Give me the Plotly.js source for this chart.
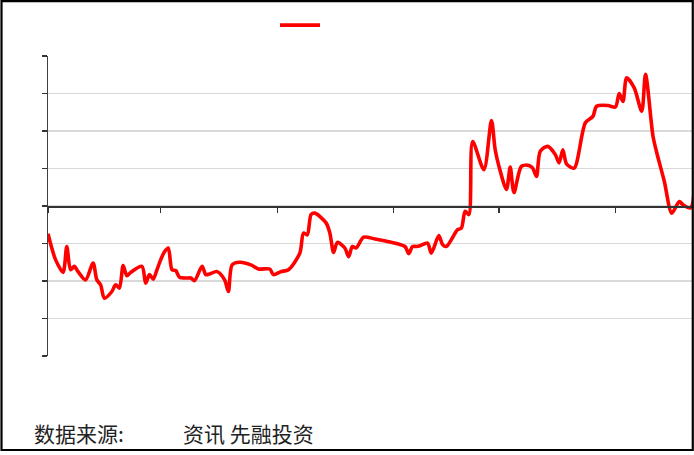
<!DOCTYPE html>
<html>
<head>
<meta charset="utf-8">
<script src="https://cdn.plot.ly/plotly-3.0.1.min.js"></script>
<style>
  html, body { margin: 0; padding: 0; background: #fff; }
  #chart { width: 694px; height: 455px; }
</style>
</head>
<body>
<div id="chart"></div>
<script>
// Dates of observations
var dates = [
  '2022-11-01','2022-11-02','2022-11-03','2022-11-05','2022-11-06','2022-11-07','2022-11-08','2022-11-09',
  '2022-11-11','2022-11-13','2022-11-14','2022-11-15','2022-11-16','2022-11-18','2022-11-19','2022-11-20',
  '2022-11-21','2022-11-22','2022-11-23','2022-11-26','2022-11-27','2022-11-28','2022-11-29','2022-11-30',
  '2022-12-01','2022-12-02','2022-12-03','2022-12-04','2022-12-05','2022-12-06','2022-12-08','2022-12-09',
  '2022-12-10','2022-12-12','2022-12-13','2022-12-14','2022-12-16','2022-12-18','2022-12-19','2022-12-20',
  '2022-12-22','2022-12-25','2022-12-27','2022-12-30','2022-12-31',
  '2023-01-02','2023-01-04','2023-01-07','2023-01-08','2023-01-09','2023-01-10','2023-01-11','2023-01-14',
  '2023-01-15','2023-01-16','2023-01-17','2023-01-19','2023-01-20','2023-01-21','2023-01-22','2023-01-24',
  '2023-01-27','2023-01-31',
  '2023-02-04','2023-02-05','2023-02-06','2023-02-07','2023-02-08','2023-02-10','2023-02-11','2023-02-13',
  '2023-02-14','2023-02-15','2023-02-18','2023-02-19','2023-02-20','2023-02-21','2023-02-22','2023-02-25',
  '2023-02-27','2023-02-28',
  '2023-03-01','2023-03-03','2023-03-04','2023-03-05','2023-03-07','2023-03-09','2023-03-10','2023-03-11',
  '2023-03-12','2023-03-14','2023-03-16','2023-03-17','2023-03-18','2023-03-19','2023-03-21','2023-03-24',
  '2023-03-26','2023-03-27','2023-03-30',
  '2023-04-01','2023-04-02','2023-04-03','2023-04-04','2023-04-06','2023-04-08','2023-04-09','2023-04-11',
  '2023-04-12','2023-04-14','2023-04-16','2023-04-18','2023-04-19','2023-04-21','2023-04-22'
];

// Series values (in grid units)
var values = [
  -0.74,-1.12,-1.43,-1.77,-1.08,-1.70,-1.61,-1.75,
  -1.97,-1.52,-1.97,-2.10,-2.46,-2.28,-2.10,-2.19,
  -1.59,-1.86,-1.77,-1.61,-2.06,-1.83,-1.95,-1.70,
  -1.43,-1.22,-1.12,-1.70,-1.72,-1.90,-1.92,-1.92,
  -1.99,-1.61,-1.83,-1.81,-1.75,-1.97,-2.28,-1.57,
  -1.50,-1.57,-1.68,-1.68,-1.83,
  -1.75,-1.70,-1.26,-0.72,-0.77,-0.23,-0.19,-0.45,
  -0.72,-1.24,-0.97,-1.12,-1.35,-1.08,-1.12,-0.83,
  -0.88,-0.96,
  -1.08,-1.27,-1.08,-1.08,-1.06,-0.99,-1.26,-0.79,
  -1.03,-1.08,-0.63,-0.59,-0.14,-0.23,1.72,0.97,
  2.28,1.50,
  1.06,0.44,1.04,0.36,1.06,1.08,1.01,0.79,
  1.46,1.59,1.37,1.15,1.50,1.12,1.01,2.22,
  2.39,2.66,2.68,
  2.64,3.00,2.79,3.42,3.15,2.53,3.51,1.86,
  1.42,0.66,-0.19,0.12,0.03,-0.05,2.40
];

var seriesName = '';
var sourceLabel = '数据来源:';
var sourceText = '资讯 先融投资';

var trace = {
  x: dates,
  y: values,
  type: 'scatter',
  mode: 'lines',
  name: seriesName,
  line: { color: '#ff0000', width: 3.6, shape: 'spline', smoothing: 0.8 },
  showlegend: true,
  hoverinfo: 'skip'
};

var layout = {
  width: 694,
  height: 455,
  margin: { l: 48, r: 2, t: 56, b: 99 },
  paper_bgcolor: '#ffffff',
  plot_bgcolor: '#ffffff',
  font: { family: '"Noto Sans CJK SC", "Noto Sans", sans-serif', color: '#222222' },
  showlegend: true,
  legend: {
    orientation: 'h',
    x: 0.3525, xanchor: 'left',
    y: 1.103, yanchor: 'middle',
    itemwidth: 40,
    font: { size: 12 },
    bgcolor: 'rgba(0,0,0,0)'
  },
  xaxis: {
    type: 'date',
    range: ['2022-11-01', '2023-04-21 09:00'],
    tick0: '2022-11-01',
    dtick: 'M1',
    showticklabels: false,
    ticks: 'outside',
    ticklen: 5,
    tickwidth: 1.2,
    tickcolor: '#333333',
    showgrid: false,
    zeroline: false,
    showline: true,
    linecolor: '#333333',
    linewidth: 1.5,
    anchor: 'free',
    position: 0.5
  },
  yaxis: {
    range: [-4, 4],
    dtick: 1,
    tick0: 0,
    showticklabels: false,
    ticks: 'outside',
    ticklen: 5,
    tickwidth: 1.2,
    tickcolor: '#333333',
    showgrid: true,
    gridcolor: '#d9d9d9',
    gridwidth: 1.2,
    zeroline: false,
    showline: true,
    linecolor: '#404040',
    linewidth: 1.5
  },
  shapes: [{
    type: 'rect',
    xref: 'paper', yref: 'paper',
    x0: -0.0722, x1: 1.0012,
    y0: -0.3133, y1: 1.1827,
    line: { color: '#000000', width: 2.2 },
    fillcolor: 'rgba(0,0,0,0)',
    layer: 'above'
  }],
  annotations: [
    {
      xref: 'paper', yref: 'paper',
      x: -0.0255, y: -0.2567,
      xanchor: 'left', yanchor: 'middle',
      text: sourceLabel,
      showarrow: false,
      font: { size: 21, color: '#222222', family: '"Noto Sans CJK SC", sans-serif' }
    },
    {
      xref: 'paper', yref: 'paper',
      x: 0.2065, y: -0.2567,
      xanchor: 'left', yanchor: 'middle',
      text: sourceText,
      showarrow: false,
      font: { size: 21, color: '#222222', family: '"Noto Sans CJK SC", sans-serif' }
    }
  ]
};

Plotly.newPlot('chart', [trace], layout, { displayModeBar: false, staticPlot: true });
</script>
</body>
</html>
